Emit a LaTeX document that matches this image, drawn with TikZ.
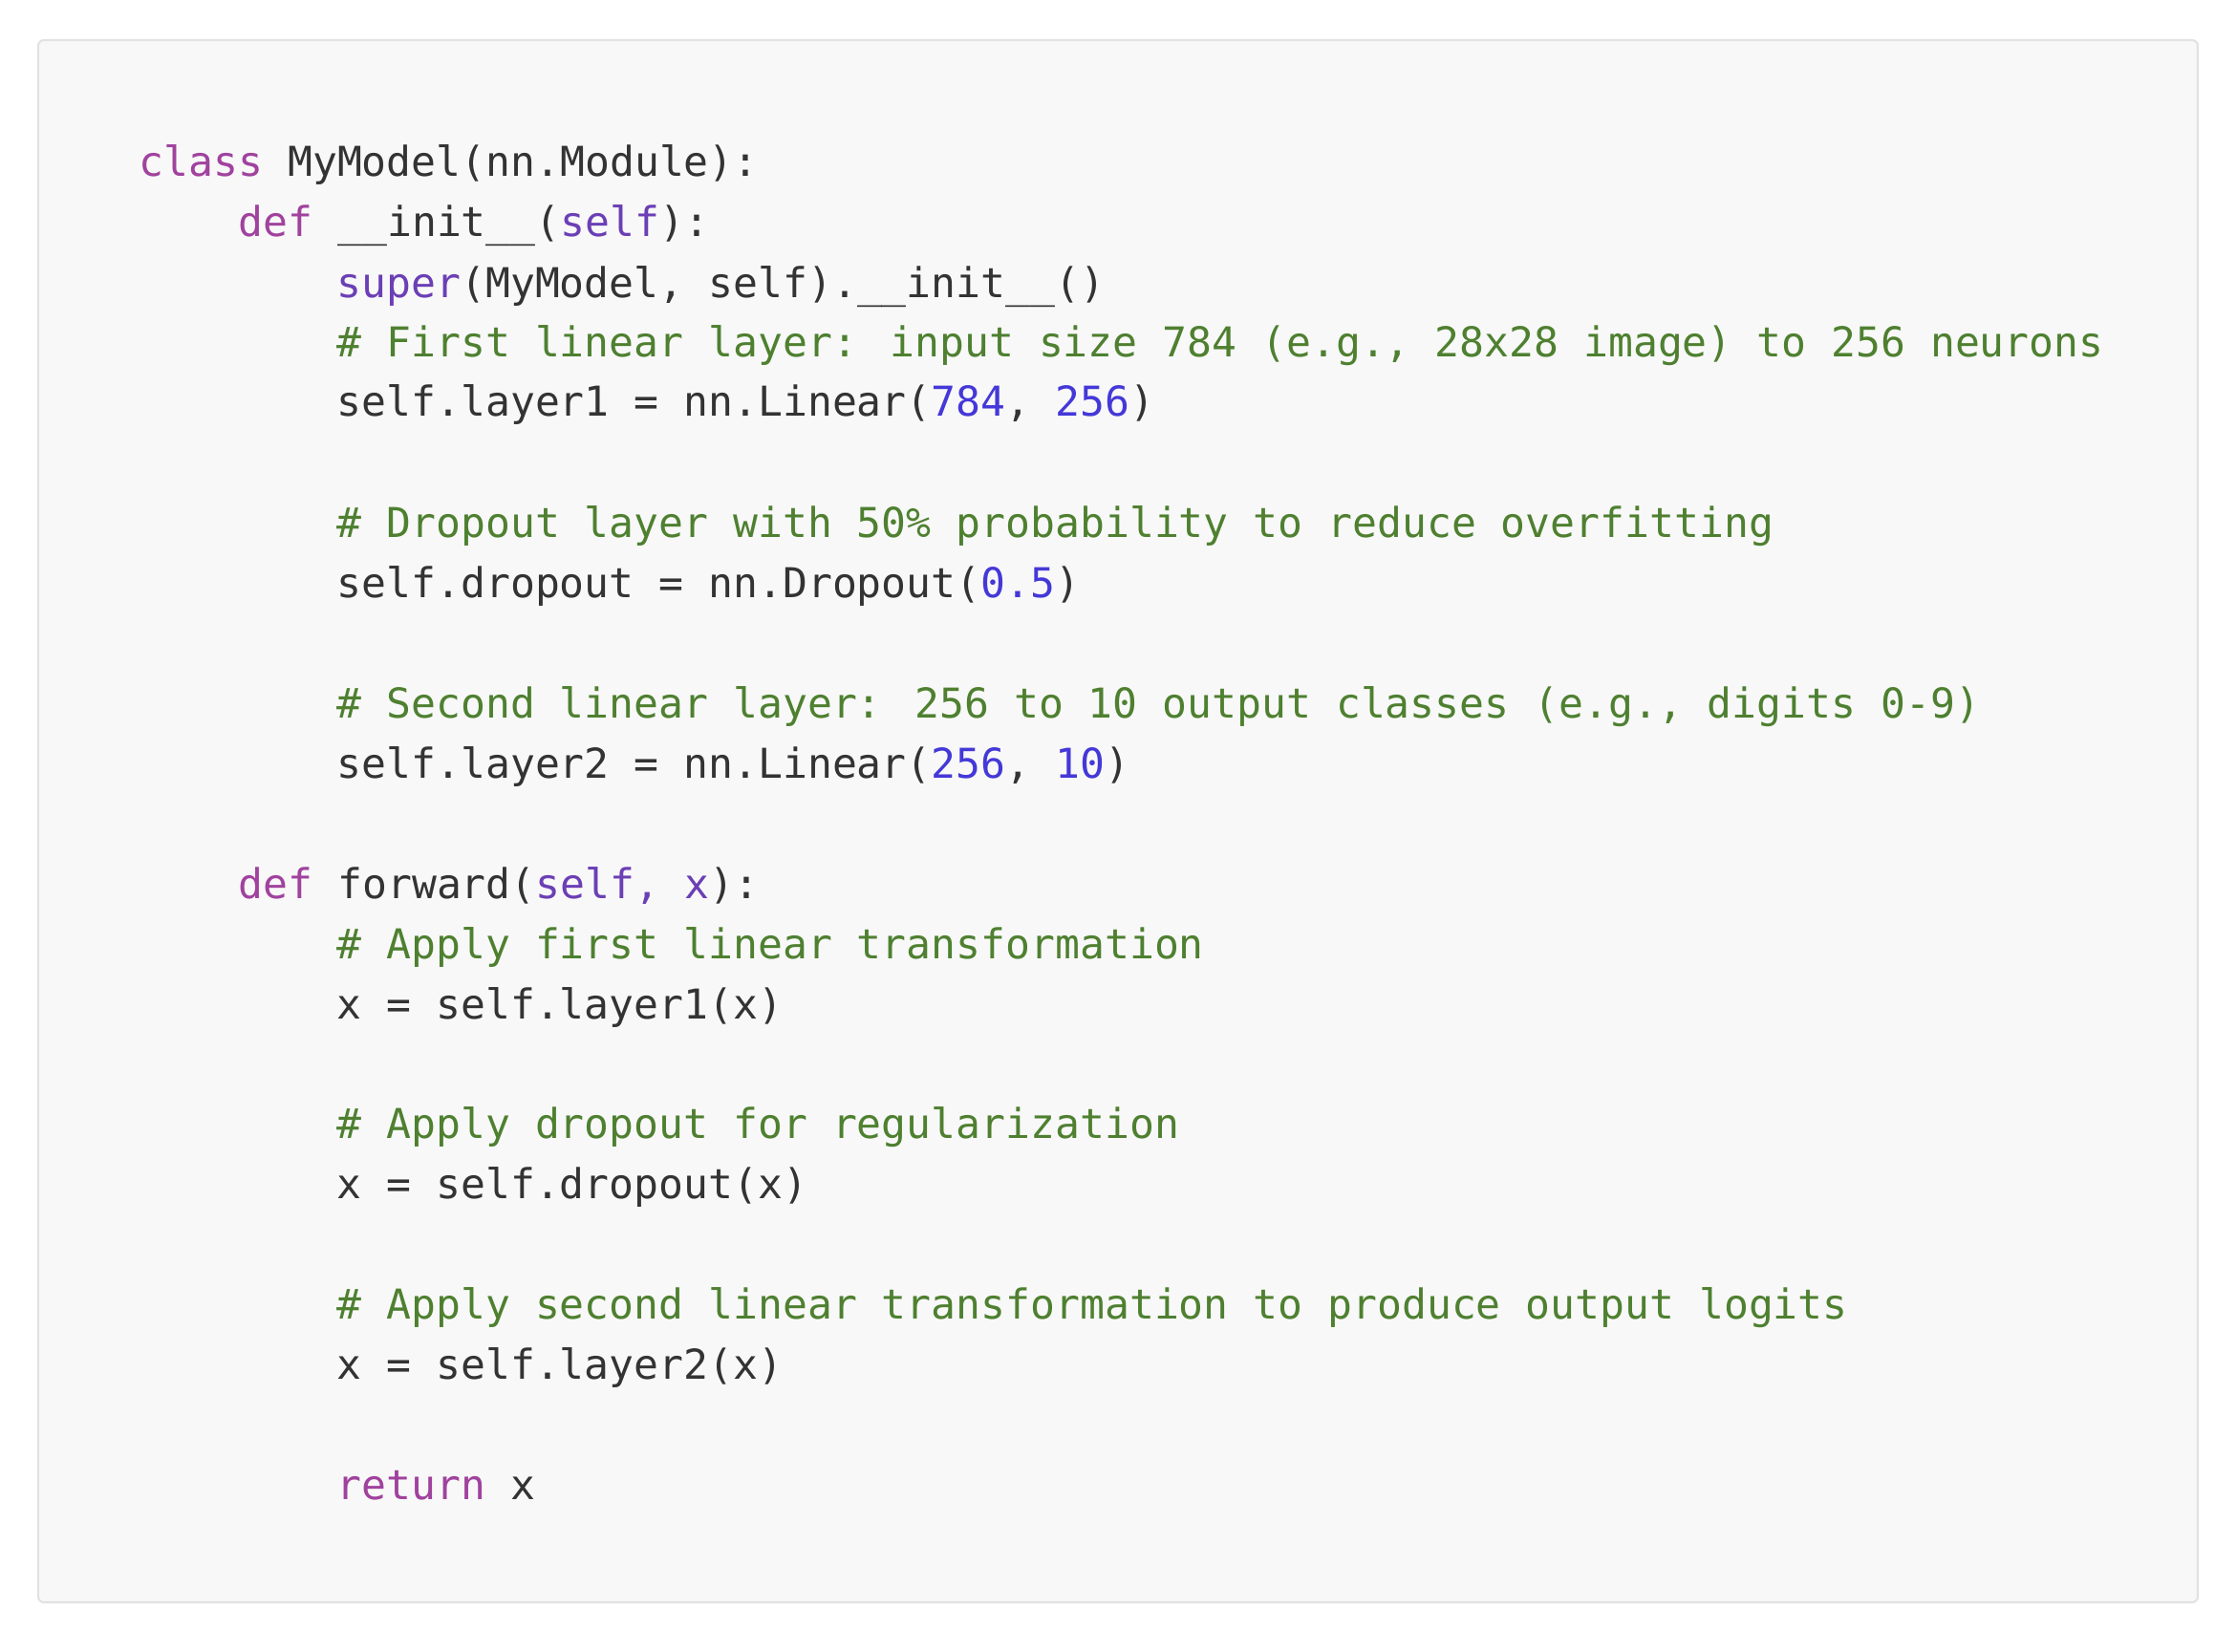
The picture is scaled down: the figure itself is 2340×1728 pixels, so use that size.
\documentclass[tikz,border=0pt]{standalone}
\usepackage{fontspec}
\newfontfamily\codefont{DejaVu Sans Mono}

\definecolor{codebg}{HTML}{F8F8F8}
\definecolor{codeframe}{HTML}{E2E2E2}
\definecolor{codetext}{HTML}{333333}
\definecolor{kwpurple}{HTML}{A0429E}
\definecolor{selfpurple}{HTML}{6B3FB5}
\definecolor{numblue}{HTML}{4438D8}
\definecolor{cmtgreen}{HTML}{4E8030}

\newcommand{\kw}[1]{\textcolor{kwpurple}{#1}}
\newcommand{\slf}[1]{\textcolor{selfpurple}{#1}}
\newcommand{\cnum}[1]{\textcolor{numblue}{#1}}
\newcommand{\cmt}[1]{\textcolor{cmtgreen}{#1}}

\tikzset{
  codeline/.style={anchor=base west, inner sep=0pt,
    font=\codefont\fontsize{12.25}{15}\selectfont, text=codetext},
  codebox/.style={fill=codebg, draw=codeframe, line width=0.6pt, rounded corners=0.6mm}
}

\begin{document}
\begin{tikzpicture}[x=0.1mm,y=-0.1mm]
    \useasboundingbox (0,0) rectangle (2340,1728);

    % Code panel
    \draw[codebox] (40,42) rectangle (2300,1677);

    % Class header
    \node[codeline] (lclass) at (145,185) {\kw{class} MyModel(nn.Module):};
    \node[codeline] (linit) at (249,248) {\kw{def} \_\_init\_\_(\slf{self}):};
    \node[codeline] (lsuper) at (352,311) {\slf{super}(MyModel, self).\_\_init\_\_()};

    % First linear layer
    \node[codeline] (cfirst) at (352,373) {\cmt{\# First linear layer: input size 784 (e.g., 28x28 image) to 256 neurons}};
    \node[codeline] (llayer1) at (352,436) {self.layer1 = nn.Linear(\cnum{784}, \cnum{256})};

    % Dropout layer
    \node[codeline] (cdrop) at (352,562) {\cmt{\# Dropout layer with 50\% probability to reduce overfitting}};
    \node[codeline] (ldrop) at (352,625) {self.dropout = nn.Dropout(\cnum{0.5})};

    % Second linear layer
    \node[codeline] (csecond) at (352,751) {\cmt{\# Second linear layer: 256 to 10 output classes (e.g., digits 0-9)}};
    \node[codeline] (llayer2) at (352,814) {self.layer2 = nn.Linear(\cnum{256}, \cnum{10})};

    % Forward pass
    \node[codeline] (lforward) at (249,940) {\kw{def} forward(\slf{self, x}):};
    \node[codeline] (capply1) at (352,1003) {\cmt{\# Apply first linear transformation}};
    \node[codeline] (lapply1) at (352,1066) {x = self.layer1(x)};

    \node[codeline] (capply2) at (352,1191) {\cmt{\# Apply dropout for regularization}};
    \node[codeline] (lapply2) at (352,1254) {x = self.dropout(x)};

    \node[codeline] (capply3) at (352,1380) {\cmt{\# Apply second linear transformation to produce output logits}};
    \node[codeline] (lapply3) at (352,1443) {x = self.layer2(x)};

    \node[codeline] (lreturn) at (352,1569) {\kw{return} x};
\end{tikzpicture}
\end{document}
